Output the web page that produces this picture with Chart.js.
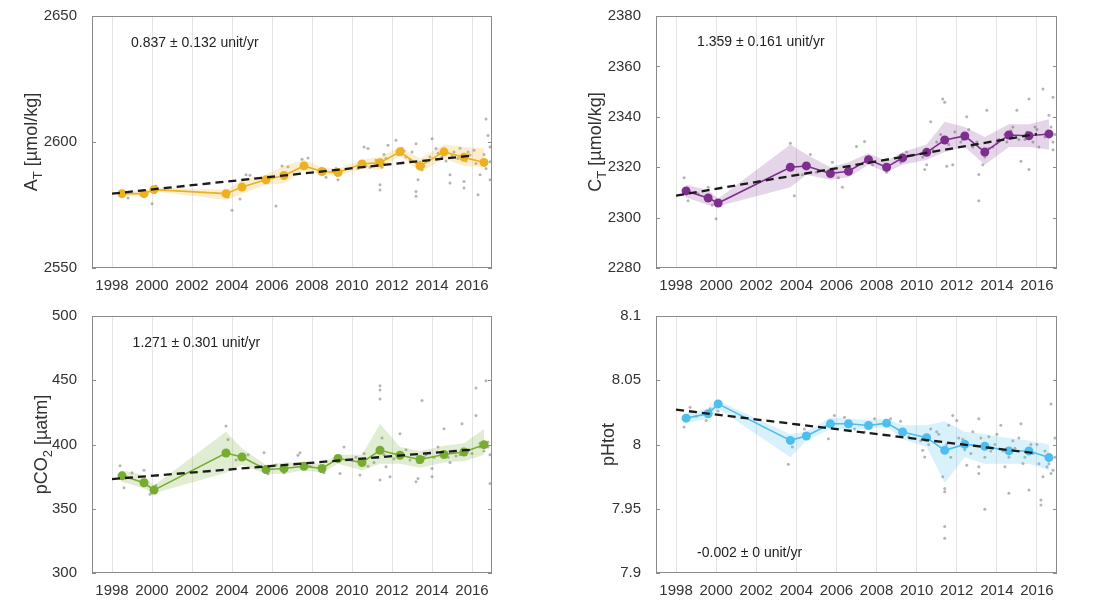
<!DOCTYPE html>
<html>
<head>
<meta charset="utf-8">
<title>Carbonate system trends</title>
<script src="https://cdn.jsdelivr.net/npm/chart.js@4.4.0/dist/chart.umd.min.js"></script>
<style>
  html, body { margin: 0; padding: 0; background: #fff; }
  .panel { position: absolute; }
</style>
</head>
<body>
<div class="panel" style="left:0;top:0;width:500px;height:295px"><canvas id="c1"></canvas></div>
<div class="panel" style="left:564px;top:0;width:500px;height:295px"><canvas id="c2"></canvas></div>
<div class="panel" style="left:0;top:300px;width:500px;height:300px"><canvas id="c3"></canvas></div>
<div class="panel" style="left:564px;top:300px;width:500px;height:300px"><canvas id="c4"></canvas></div>
<script>
// --- data ---
const years = [1998.5, 1999.6, 2000.1, 2003.7, 2004.5, 2005.7, 2006.6, 2007.6, 2008.5, 2009.3, 2010.5, 2011.4, 2012.4, 2013.4, 2014.6, 2015.6, 2016.6];
const yearTicks = [1998, 2000, 2002, 2004, 2006, 2008, 2010, 2012, 2014, 2016];
const trendYears = [1998, 2016];

// A_T
const atTicks = [2550, 2600, 2650];
const atMean = [2579.5, 2579.5, 2581.1, 2579.5, 2582.1, 2585.0, 2586.7, 2590.5, 2588.3, 2587.9, 2591.3, 2591.8, 2596.1, 2590.5, 2596.1, 2593.9, 2591.9];
const atLow  = [2578.5, 2578.5, 2580.5, 2577.0, 2579.5, 2583.0, 2583.5, 2589.0, 2587.0, 2586.5, 2589.5, 2589.0, 2594.5, 2588.0, 2593.5, 2590.5, 2590.0];
const atHigh = [2580.5, 2580.5, 2582.0, 2581.0, 2585.0, 2587.0, 2590.5, 2593.0, 2590.0, 2589.5, 2593.0, 2594.0, 2598.0, 2593.5, 2599.0, 2598.0, 2597.5];
const atTrend = [2579.5, 2594.6];
const atObs = [[1998.4,2580.5],[1998.8,2577.8],[1999.5,2580.3],[2000.0,2575.5],[2000.2,2582.5],[2003.8,2578.2],[2004.0,2572.9],[2004.4,2577.4],[2004.7,2587],[2004.9,2586.8],[2005.6,2585.5],[2006.2,2574.6],[2006.5,2590.5],[2006.8,2590.2],[2007.5,2593.2],[2007.8,2593.7],[2008.4,2587.5],[2008.7,2586],[2009.2,2589.5],[2009.3,2585],[2010.3,2589.5],[2010.6,2598],[2010.8,2597.4],[2010.9,2590],[2011.4,2583],[2011.4,2581],[2011.6,2595],[2011.8,2598.7],[2012.2,2600.7],[2012.5,2597.5],[2012.9,2593],[2013.2,2599.3],[2013.2,2580.4],[2013.2,2578.5],[2013.3,2585],[2013.5,2589],[2013.7,2592.5],[2014.0,2601.3],[2014.2,2597.4],[2014.5,2594],[2014.9,2587],[2014.9,2583.7],[2015.1,2596],[2015.3,2593.5],[2015.6,2584.3],[2015.6,2581.7],[2015.9,2594.8],[2016.1,2596.7],[2016.3,2579.1],[2016.4,2587],[2016.5,2592],[2016.7,2609.1],[2016.8,2602.6],[2016.9,2585],[2016.9,2592.2],[2016.9,2598],
  [2010.4,2592],[2010.7,2590.5],[2011.2,2592.8],[2011.5,2590],[2011.7,2593.5],[2012.3,2595],[2012.6,2596.5],[2012.7,2594],[2013.0,2596],[2013.4,2592],[2013.6,2590.5],[2013.9,2594],[2014.3,2595.5],[2014.6,2597],[2014.7,2592.5],[2015.0,2594.5],[2015.4,2597.5],[2015.7,2592.5],[2015.8,2596],[2016.2,2591.5],[2016.6,2595],[2016.7,2589.5]];

// C_T
const ctTicks = [2280, 2300, 2320, 2340, 2360, 2380];
const ctMean = [2310.6, 2307.8, 2305.8, 2320.0, 2320.5, 2317.5, 2318.4, 2323.0, 2320.0, 2323.7, 2325.9, 2330.8, 2332.4, 2326.0, 2332.8, 2332.5, 2333.2];
const ctLow  = [2308, 2305, 2304.5, 2312, 2317, 2315, 2316, 2321, 2318, 2321, 2323, 2326, 2328, 2321, 2328, 2328, 2327];
const ctHigh = [2313, 2311, 2307.5, 2329, 2325, 2320, 2322, 2325.5, 2322.5, 2326, 2329, 2338, 2336, 2332, 2337, 2337, 2339];
const ctTrend = [2308.7, 2333.2];
const ctObs = [[1998.4,2315.8],[1998.6,2306.7],[1999.1,2309.5],[1999.6,2312],[1999.8,2305],[2000.0,2299.5],[2003.7,2329.5],[2003.9,2308.7],[2004.3,2317],[2004.7,2325],[2005.0,2318],[2005.8,2322],[2006.1,2315.8],[2006.3,2312],[2006.6,2320],[2007.0,2328.2],[2007.4,2330.2],[2007.8,2321],[2008.5,2318],[2009.2,2322],[2009.5,2326],[2010.4,2319.1],[2010.5,2321],[2010.7,2338],[2011.0,2330],[2011.3,2347.1],[2011.4,2345.8],[2011.5,2320.4],[2011.8,2321],[2012.2,2330],[2012.5,2340],[2012.8,2328],[2013.1,2306.7],[2013.1,2317.1],[2013.3,2321],[2013.5,2342.6],[2013.8,2328],[2014.0,2329.5],[2014.4,2333],[2014.8,2336],[2015.0,2342.6],[2015.2,2322.4],[2015.4,2331],[2015.6,2347.1],[2015.6,2319.1],[2015.9,2336],[2016.1,2328],[2016.3,2351],[2016.6,2340.6],[2016.8,2347.8],[2016.8,2326.9],[2016.9,2333],
  [2010.3,2324],[2010.8,2327],[2011.2,2333],[2011.6,2329],[2011.9,2334],[2012.3,2331],[2012.6,2335],[2013.0,2330],[2013.4,2324],[2013.6,2327.5],[2014.1,2331],[2014.5,2330],[2014.7,2334.5],[2015.1,2331],[2015.5,2334],[2015.8,2330],[2016.0,2335],[2016.4,2332],[2016.7,2336],[2016.8,2330]];

// pCO2
const pco2Ticks = [300, 350, 400, 450, 500];
const pco2Mean = [375.6, 370.2, 364.5, 393.4, 390.3, 380.5, 381.3, 383.1, 381.3, 389.1, 386.0, 395.5, 391.6, 388.3, 392.2, 394.2, 399.9];
const pco2Low  = [371, 366, 362, 378, 384, 377, 377, 380, 378, 385, 380, 385, 385, 382, 386, 387, 392];
const pco2High = [380, 376, 368, 410, 397, 384, 386, 386, 385, 392, 392, 416, 398, 395, 399, 401, 412];
const pco2Trend = [373.1, 396.0];
const pco2Obs = [[1998.4,383.4],[1998.6,366.4],[1999.0,378],[1999.6,380],[1999.9,361.2],[2000.2,368],[2003.7,414.3],[2003.8,403.8],[2004.2,388],[2004.8,392],[2005.6,393.5],[2005.8,377],[2006.2,384],[2006.6,378],[2007.3,391.6],[2007.4,393.5],[2007.9,383],[2008.6,378],[2009.4,377.5],[2009.6,398],[2010.2,390],[2010.4,376.2],[2010.6,393],[2011.1,386],[2011.4,445.8],[2011.4,442.5],[2011.4,435.5],[2011.4,372.3],[2011.5,405],[2011.7,382.6],[2011.9,374.9],[2012.4,408.4],[2012.7,396],[2013.2,371],[2013.3,373.6],[2013.5,434.2],[2013.7,392],[2014.0,381.3],[2014.0,374.9],[2014.3,398],[2014.6,412.3],[2014.9,386],[2015.2,391],[2015.5,416.1],[2015.8,395],[2016.2,444],[2016.2,422.6],[2016.4,398],[2016.7,449.7],[2016.8,402],[2016.9,369.7],[2016.9,392],
  [2010.3,387],[2010.8,383],[2011.2,390],[2011.6,392],[2012.1,389],[2012.5,393],[2012.9,388],[2013.3,386],[2013.6,390],[2014.1,390],[2014.5,393],[2014.8,390],[2015.1,395],[2015.4,392],[2015.7,396],[2016.0,393],[2016.4,401],[2016.6,395],[2016.8,398]];

// pH
const phTicks = [7.9, 7.95, 8, 8.05, 8.1];
const phMean = [8.0205, 8.0239, 8.0316, 8.0032, 8.0066, 8.0161, 8.0161, 8.0148, 8.0166, 8.0097, 8.0053, 7.9955, 8.0001, 7.9986, 7.9950, 7.9950, 7.9898];
const phLow  = [8.017, 8.020, 8.028, 7.990, 8.003, 8.012, 8.012, 8.012, 8.014, 8.004, 7.998, 7.970, 7.990, 7.985, 7.985, 7.985, 7.980];
const phHigh = [8.024, 8.028, 8.034, 8.008, 8.010, 8.021, 8.020, 8.019, 8.020, 8.015, 8.015, 8.018, 8.010, 8.008, 8.005, 8.003, 8.000];
const phTrend = [8.0271, 7.9930];
const phObs = [[1998.4,8.0136],[1998.7,8.029],[1999.0,8.022],[1999.5,8.0187],[1999.7,8.0278],[2000.1,8.026],[2003.6,7.9847],[2003.8,7.998],[2004.4,8.012],[2005.6,8.0045],[2005.9,8.0226],[2006.4,8.0213],[2006.9,8.012],[2007.4,8.0097],[2007.9,8.02],[2008.7,8.02],[2009.2,8.018],[2009.6,8.006],[2010.3,7.9955],[2010.4,7.9903],[2010.7,8.012],[2011.1,8.008],[2011.3,7.9749],[2011.4,7.9658],[2011.4,7.9633],[2011.4,7.9362],[2011.4,7.9271],[2011.6,8.015],[2011.8,8.0226],[2012.0,8.0187],[2012.3,8.004],[2012.5,7.9839],[2012.8,8.01],[2013.1,8.02],[2013.1,7.9826],[2013.1,7.9775],[2013.4,7.9496],[2013.6,8.006],[2013.9,8.0],[2014.2,8.0149],[2014.4,7.9826],[2014.6,7.962],[2014.8,8.003],[2015.2,8.0162],[2015.3,7.9852],[2015.6,7.9645],[2015.8,7.9929],[2016.0,8.0],[2016.2,7.9568],[2016.2,7.9529],[2016.5,7.9826],[2016.7,8.0316],[2016.7,7.9775],[2016.3,7.9749],[2016.9,7.99],[2016.9,8.005],
  [2010.2,8.003],[2010.6,8.0],[2011.0,8.01],[2011.5,8.0],[2011.7,7.99],[2012.1,8.005],[2012.4,7.996],[2012.7,7.993],[2013.2,8.005],[2013.4,7.99],[2013.7,7.995],[2014.0,8.008],[2014.3,7.995],[2014.6,7.99],[2014.9,7.997],[2015.1,8.005],[2015.4,7.99],[2015.7,8.0],[2016.1,7.985],[2016.4,7.995],[2016.6,7.985],[2016.8,7.98]];

Chart.defaults.font.family = "'Liberation Sans', Arial, Helvetica, sans-serif";
Chart.defaults.color = '#333';

const FONT = "'Liberation Sans', Arial, Helvetica, sans-serif";

// box, inward ticks, y label with subscript, slope note
const decor = {
  id: 'decor',
  afterDraw(chart, args, o) {
    const ctx = chart.ctx, a = chart.chartArea, y = chart.scales.y, x = chart.scales.x;
    ctx.save();
    ctx.strokeStyle = '#8a8a8a';
    ctx.lineWidth = 1;
    ctx.strokeRect(a.left + 0.5, a.top + 0.5, a.right - a.left - 1, a.bottom - a.top - 1);
    ctx.beginPath();
    o.ticks.forEach(v => {
      const py = Math.round(y.getPixelForValue(v)) + 0.5;
      ctx.moveTo(a.left, py); ctx.lineTo(a.left + 4, py);
      ctx.moveTo(a.right, py); ctx.lineTo(a.right - 4, py);
    });
    ctx.stroke();

    // y axis title
    ctx.fillStyle = '#333';
    ctx.translate(a.left - o.labelGap, (a.top + a.bottom) / 2);
    ctx.rotate(-Math.PI / 2);
    ctx.textBaseline = 'middle';
    let w = 0;
    o.label.forEach(p => {
      ctx.font = (p[1] ? 13 : 18) + 'px ' + FONT;
      w += ctx.measureText(p[0]).width;
    });
    let px = -w / 2;
    o.label.forEach(p => {
      ctx.font = (p[1] ? 13 : 18) + 'px ' + FONT;
      ctx.fillText(p[0], px, p[1] ? 6 : 0);
      px += ctx.measureText(p[0]).width;
    });
    ctx.restore();

    // slope note
    ctx.save();
    ctx.fillStyle = '#222';
    ctx.font = '14px ' + FONT;
    ctx.textBaseline = 'middle';
    ctx.fillText(o.note, x.getPixelForValue(o.noteAt[0]), y.getPixelForValue(o.noteAt[1]));
    ctx.restore();
  }
};

function makePanel(id, cfg) {
  const pts = (xs, ys) => xs.map((v, i) => ({ x: v, y: ys[i] }));
  new Chart(document.getElementById(id), {
    type: 'line',
    data: {
      datasets: [
        { data: pts(years, cfg.low), borderWidth: 0, pointRadius: 0, fill: false, order: 3 },
        { data: pts(years, cfg.high), borderWidth: 0, pointRadius: 0, fill: 0, backgroundColor: cfg.band, order: 3 },
        { data: cfg.obs.map(p => ({ x: p[0], y: p[1] })), showLine: false, pointRadius: 1.5, pointBorderWidth: 0,
          pointBackgroundColor: 'rgba(130,130,130,0.6)', order: 4 },
        { data: pts(years, cfg.mean), borderColor: cfg.color, borderWidth: 1.6, pointRadius: 4.5,
          pointBackgroundColor: cfg.color, pointBorderWidth: 0, order: 1 },
        { data: pts(trendYears, cfg.trend), borderColor: '#1a1a1a', borderWidth: 2.3, borderDash: [8, 5],
          pointRadius: 0, order: 0 }
      ]
    },
    options: {
      animation: false,
      responsive: true,
      maintainAspectRatio: false,
      layout: { padding: { top: cfg.padTop, right: cfg.padRight, left: 0, bottom: 0 } },
      plugins: {
        legend: { display: false },
        tooltip: { enabled: false },
        decor: { ticks: cfg.ticks, label: cfg.label, labelGap: cfg.labelGap, note: cfg.note, noteAt: cfg.noteAt }
      },
      scales: {
        x: {
          type: 'linear', min: 1997, max: 2017,
          afterBuildTicks: s => { s.ticks = yearTicks.map(v => ({ value: v })); },
          afterFit: s => { s.height = 27; },
          grid: { color: '#e4e4e4', drawTicks: false },
          border: { display: false },
          ticks: { font: { size: 15 }, padding: 9, maxRotation: 0, autoSkip: false, callback: v => String(v) }
        },
        y: {
          min: cfg.ticks[0], max: cfg.ticks[cfg.ticks.length - 1],
          afterBuildTicks: s => { s.ticks = cfg.ticks.map(v => ({ value: v })); },
          afterFit: s => { s.width = 92; },
          grid: { display: false },
          border: { display: false },
          ticks: { font: { size: 15 }, padding: 7, callback: v => String(Math.round(v * 100) / 100) }
        }
      }
    },
    plugins: [decor]
  });
}

makePanel('c1', { low: atLow, high: atHigh, mean: atMean, obs: atObs, trend: atTrend, ticks: atTicks,
  color: '#EDB120', band: 'rgba(237,177,32,0.22)', padTop: 13, padRight: 8,
  label: [['A', 0], ['T', 1], [' [µmol/kg]', 0]], labelGap: 60,
  note: '0.837 ± 0.132 unit/yr', noteAt: [1998.95, 2639.4] });

makePanel('c2', { low: ctLow, high: ctHigh, mean: ctMean, obs: ctObs, trend: ctTrend, ticks: ctTicks,
  color: '#7E2F8E', band: 'rgba(126,47,142,0.2)', padTop: 13, padRight: 7,
  label: [['C', 0], ['T', 1], [' [µmol/kg]', 0]], labelGap: 60,
  note: '1.359 ± 0.161 unit/yr', noteAt: [1999.05, 2369.6] });

makePanel('c3', { low: pco2Low, high: pco2High, mean: pco2Mean, obs: pco2Obs, trend: pco2Trend, ticks: pco2Ticks,
  color: '#77AC30', band: 'rgba(119,172,48,0.22)', padTop: 15, padRight: 8,
  label: [['pCO', 0], ['2', 1], [' [µatm]', 0]], labelGap: 50,
  note: '1.271 ± 0.301 unit/yr', noteAt: [1999.03, 478.5] });

makePanel('c4', { low: phLow, high: phHigh, mean: phMean, obs: phObs, trend: phTrend, ticks: phTicks,
  color: '#4DBEEE', band: 'rgba(77,190,238,0.22)', padTop: 15, padRight: 7,
  label: [['pHtot', 0]], labelGap: 47,
  note: '-0.002 ± 0 unit/yr', noteAt: [1999.05, 7.9158] });
</script>
</body>
</html>
